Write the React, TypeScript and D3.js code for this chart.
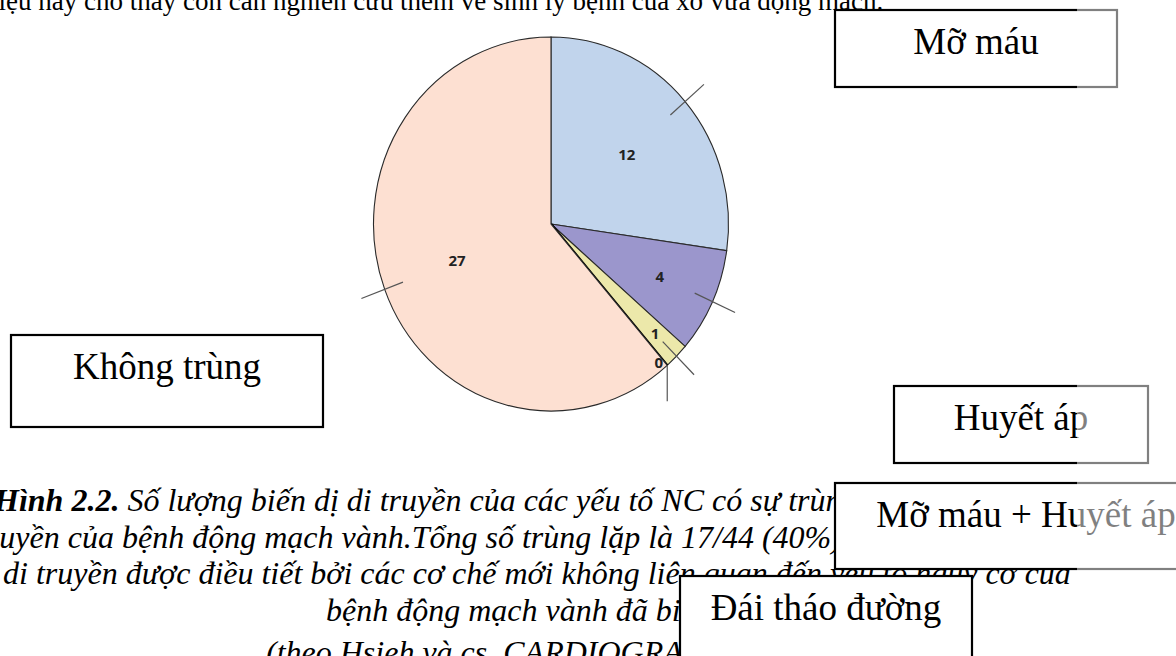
import * as d3 from 'd3';
import React from 'react';

// pie data
const sliceNames = ['Mỡ máu', 'Huyết áp', 'Mỡ máu + Huyết áp', 'Đái tháo đường', 'Không trùng'];
const sliceValues = [12, 4, 1, 0, 27];
const sliceColors = ['#c1d4ec', '#9b96cc', '#ece8aa', '#ece8aa', '#fde0d2'];

// surrounding document text
const topLine = 'liệu này cho thấy còn cần nghiên cứu thêm về sinh lý bệnh của xơ vữa động mạch.';
const captionLead = 'Hình 2.2.';
const captionLines = [
    ' Số lượng biến dị di truyền của các yếu tố NC có sự trùng',
    'truyền của bệnh động mạch vành.Tổng số trùng lặp là 17/44 (40%),',
    'di truyền được điều tiết bởi các cơ chế mới không liên quan đến yếu tố nguy cơ của',
    'bệnh động mạch vành đã biết',
    '(theo Hsieh và cs, CARDIOGRAM)',
];

// layout of the callout boxes (index into sliceNames)
const boxes = [
    { name: 0, x: 835, y: 10, w: 282, h: 77 },
    { name: 4, x: 11, y: 335, w: 312, h: 92 },
    { name: 1, x: 894, y: 386, w: 254, h: 77 },
    { name: 2, x: 835, y: 483, w: 382, h: 86 },
    { name: 3, x: 680, y: 576, w: 292, h: 110 },
];
const captionX = [-6, -22, 3, 326, 266];

const W = 1176;
const H = 656;
const serif = '"Liberation Serif", "Times New Roman", serif';

const App = () => {
    const cx = 551;
    const cy = 224;
    const R = 177.5;
    const sy = 187 / 177.5;

    const pie = d3.pie<number>().sort(null).value((d) => d);
    const arcs = pie(sliceValues);
    const arc = d3.arc<d3.PieArcDatum<number>>().innerRadius(0).outerRadius(R);

    // small slices get their number pushed towards the rim
    const labelR = d3.scaleLinear().domain([0, 0.14, 0.58, 1.7]).range([0.98, 0.83, 0.67, 0.565]).clamp(true);

    const polar = (a: number, r: number) => [cx + r * Math.sin(a), cy - r * Math.cos(a) * sy];

    return (
        <svg width={W} height={H} style={{ position: 'fixed', left: 0, top: 0, background: '#fff' }}>
            <rect width={W} height={H} fill="#fff" />

            <text x={-9} y={10} fontFamily={serif} fontSize={27} fill="#000">{topLine}</text>

            <g transform={`translate(${cx},${cy}) scale(1,${sy})`}>
                {arcs.map((d, i) => (
                    <path
                        key={i}
                        d={arc(d) as string}
                        fill={sliceColors[i]}
                        stroke={d.value === 0 ? '#000' : '#2a2a2a'}
                        strokeWidth={d.value === 0 ? 2.4 : 1.1}
                        vectorEffect="non-scaling-stroke"
                    />
                ))}
            </g>

            {arcs.map((d, i) => {
                const mid = (d.startAngle + d.endAngle) / 2;
                let p1: number[];
                let p2: number[];
                if (d.value === 0) {
                    p1 = polar(mid, R);
                    p2 = [p1[0], p1[1] + 36];
                } else {
                    p1 = polar(mid, R * 0.89);
                    p2 = polar(mid, R * 1.14);
                }
                return (
                    <line key={`l${i}`} x1={p1[0]} y1={p1[1]} x2={p2[0]} y2={p2[1]} stroke="#555" strokeWidth={1.2} />
                );
            })}

            {arcs.map((d, i) => {
                const mid = (d.startAngle + d.endAngle) / 2;
                const k = labelR(d.endAngle - d.startAngle);
                const p = polar(mid, R * k);
                return (
                    <text
                        key={`t${i}`}
                        x={p[0] - (d.value === 0 ? 6 : 0)}
                        y={p[1]}
                        dy="0.36em"
                        textAnchor="middle"
                        fontFamily='"Open Sans", sans-serif'
                        fontWeight={700}
                        fontSize={15}
                        fill="#222"
                    >
                        {d.value}
                    </text>
                );
            })}

            {captionLines.map((t, i) => (
                <text
                    key={`c${i}`}
                    x={captionX[i]}
                    y={511 + i * 36.5 + (i === captionLines.length - 1 ? 6 : 0)}
                    fontFamily={serif}
                    fontStyle="italic"
                    fontSize={32}
                    fill="#000"
                >
                    {i === 0 && <tspan fontWeight={700}>{captionLead}</tspan>}
                    {t}
                </text>
            ))}

            {boxes.map((b, i) => (
                <g key={`b${i}`}>
                    <rect x={b.x} y={b.y} width={b.w} height={b.h} fill="#fff" stroke="#000" strokeWidth={2.2} />
                    <text x={b.x + b.w / 2} y={b.y + 44} textAnchor="middle" fontFamily={serif} fontSize={37} fill="#000">
                        {sliceNames[b.name]}
                    </text>
                </g>
            ))}

            {/* faded strip on the right edge of the page scan */}
            <rect x={1077} y={0} width={W - 1077} height={H} fill="#fff" opacity={0.5} />
        </svg>
    );
};

export default App;
